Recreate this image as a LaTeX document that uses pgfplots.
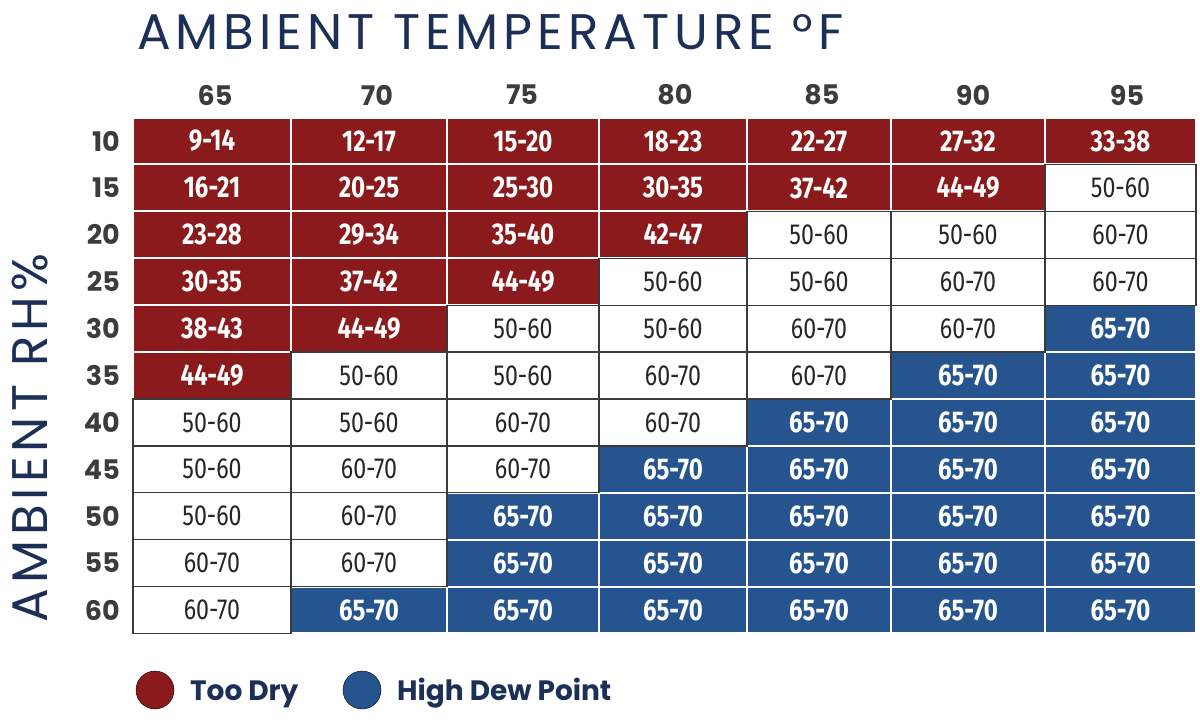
\documentclass[border=0pt]{standalone}
\usepackage{fontspec}
\usepackage{pgfplots}
\usepackage{pgfplotstable}
\pgfplotsset{compat=1.18}
\setmainfont{Poppins}
\newfontfamily\titlefont{Poppins}[LetterSpace=10]
\newfontfamily\cellfont{Fira Sans}[FakeStretch=0.8]
\definecolor{dryred}{HTML}{8A1A1B}
\definecolor{dewblue}{HTML}{26548F}
\definecolor{navy}{HTML}{1B2F57}
\definecolor{labgray}{HTML}{3C3C3C}
\definecolor{cellline}{HTML}{3A3A3A}

\pgfdeclareplotmark{cell}{%
  \pgfpathrectangle{\pgfpoint{-\cellhw bp}{-23.45bp}}{\pgfpoint{2*\cellhw bp}{46.9bp}}%
  \pgfusepathqfillstroke}

% x = column centre, y = row centre (pixels from top), hw = half column width
\pgfplotstableread{
x y hw lab
212 141 79 9-14
369 141 78 12-17
523 141 76 15-20
673 141 74 18-23
819 141 72 22-27
968 141 77 27-32
1120.5 141 75.5 33-38
212 187.9 79 16-21
369 187.9 78 20-25
523 187.9 76 25-30
673 187.9 74 30-35
819 187.9 72 37-42
968 187.9 77 44-49
212 234.8 79 23-28
369 234.8 78 29-34
523 234.8 76 35-40
673 234.8 74 42-47
212 281.7 79 30-35
369 281.7 78 37-42
523 281.7 76 44-49
212 328.6 79 38-43
369 328.6 78 44-49
212 375.5 79 44-49
}\redcells

\pgfplotstableread{
x y hw lab
1120.5 187.9 75.5 50-60
819 234.8 72 50-60
968 234.8 77 50-60
1120.5 234.8 75.5 60-70
673 281.7 74 50-60
819 281.7 72 50-60
968 281.7 77 60-70
1120.5 281.7 75.5 60-70
523 328.6 76 50-60
673 328.6 74 50-60
819 328.6 72 60-70
968 328.6 77 60-70
369 375.5 78 50-60
523 375.5 76 50-60
673 375.5 74 60-70
819 375.5 72 60-70
212 422.4 79 50-60
369 422.4 78 50-60
523 422.4 76 60-70
673 422.4 74 60-70
212 469.3 79 50-60
369 469.3 78 60-70
523 469.3 76 60-70
212 516.2 79 50-60
369 516.2 78 60-70
212 563.1 79 60-70
369 563.1 78 60-70
212 610 79 60-70
}\whitecells

\pgfplotstableread{
x y hw lab
1120.5 328.6 75.5 65-70
968 375.5 77 65-70
1120.5 375.5 75.5 65-70
819 422.4 72 65-70
968 422.4 77 65-70
1120.5 422.4 75.5 65-70
673 469.3 74 65-70
819 469.3 72 65-70
968 469.3 77 65-70
1120.5 469.3 75.5 65-70
523 516.2 76 65-70
673 516.2 74 65-70
819 516.2 72 65-70
968 516.2 77 65-70
1120.5 516.2 75.5 65-70
523 563.1 76 65-70
673 563.1 74 65-70
819 563.1 72 65-70
968 563.1 77 65-70
1120.5 563.1 75.5 65-70
369 610 78 65-70
523 610 76 65-70
673 610 74 65-70
819 610 72 65-70
968 610 77 65-70
1120.5 610 75.5 65-70
}\bluecells

\pgfplotstableread{
x y lab
215 95 65
377 95 70
522 95 75
675 95 80
822 95 85
973 95 90
1127 95 95
}\temps

\pgfplotstableread{
x y lab
120 141 10
120 187.9 15
120 234.8 20
120 281.7 25
120 328.6 30
120 375.5 35
120 422.4 40
120 469.3 45
120 516.2 50
120 563.1 55
120 610 60
}\rhs

\begin{document}
\begin{tikzpicture}
\begin{axis}[
  width=1200bp, height=721bp, scale only axis,
  xmin=0, xmax=1200, ymin=0, ymax=721, y dir=reverse,
  hide axis, clip=false,
  point meta=explicit symbolic,
]
\path (axis cs:0,0) rectangle (axis cs:1200,721);

\addplot[only marks, mark=cell,
  mark options={fill=dryred, draw=white, line width=2bp},
  visualization depends on={\thisrow{hw}\as\cellhw},
  nodes near coords,
  nodes near coords style={anchor=center, text=white,
    font=\cellfont\bfseries\fontsize{30bp}{30bp}\selectfont}]
  table[x=x, y=y, meta=lab]{\redcells};

\addplot[only marks, mark=cell,
  mark options={fill=dewblue, draw=white, line width=2bp},
  visualization depends on={\thisrow{hw}\as\cellhw},
  nodes near coords,
  nodes near coords style={anchor=center, text=white,
    font=\cellfont\bfseries\fontsize{30bp}{30bp}\selectfont}]
  table[x=x, y=y, meta=lab]{\bluecells};

\addplot[only marks, mark=cell,
  mark options={fill=white, draw=cellline, line width=1.3bp},
  visualization depends on={\thisrow{hw}\as\cellhw},
  nodes near coords,
  nodes near coords style={anchor=center, text=black!85,
    font=\cellfont\fontsize{29bp}{29bp}\selectfont}]
  table[x=x, y=y, meta=lab]{\whitecells};

\addplot[only marks, mark=none, nodes near coords,
  nodes near coords style={anchor=center, text=labgray,
    font=\bfseries\fontsize{27bp}{27bp}\selectfont}]
  table[x=x, y=y, meta=lab]{\temps};

\addplot[only marks, mark=none, nodes near coords,
  nodes near coords style={anchor=east, inner sep=0pt, text=labgray,
    font=\bfseries\fontsize{27bp}{27bp}\selectfont}]
  table[x=x, y=y, meta=lab]{\rhs};

% legend
\addplot[only marks, mark=*, mark size=19bp,
  mark options={fill=dryred, draw=none},
  nodes near coords,
  nodes near coords style={anchor=base west, inner sep=0pt, xshift=35bp, yshift=-10bp,
    text=navy, font=\bfseries\fontsize{28bp}{28bp}\selectfont}]
  coordinates {(155,690) [Too Dry]};
\addplot[only marks, mark=*, mark size=19bp,
  mark options={fill=dewblue, draw=none},
  nodes near coords,
  nodes near coords style={anchor=base west, inner sep=0pt, xshift=35bp, yshift=-10bp,
    text=navy, font=\bfseries\fontsize{28bp}{28bp}\selectfont}]
  coordinates {(362,690) [High Dew Point]};

\node[anchor=base west, inner sep=0pt, text=navy,
  font=\titlefont\fontsize{50bp}{50bp}\selectfont]
  at (axis cs:137,50) {AMBIENT TEMPERATURE °F};
\node[rotate=90, anchor=base, inner sep=0pt, text=navy,
  font=\titlefont\fontsize{50bp}{50bp}\selectfont]
  at (axis cs:47,438) {AMBIENT RH\%};
\end{axis}
\end{tikzpicture}
\end{document}
